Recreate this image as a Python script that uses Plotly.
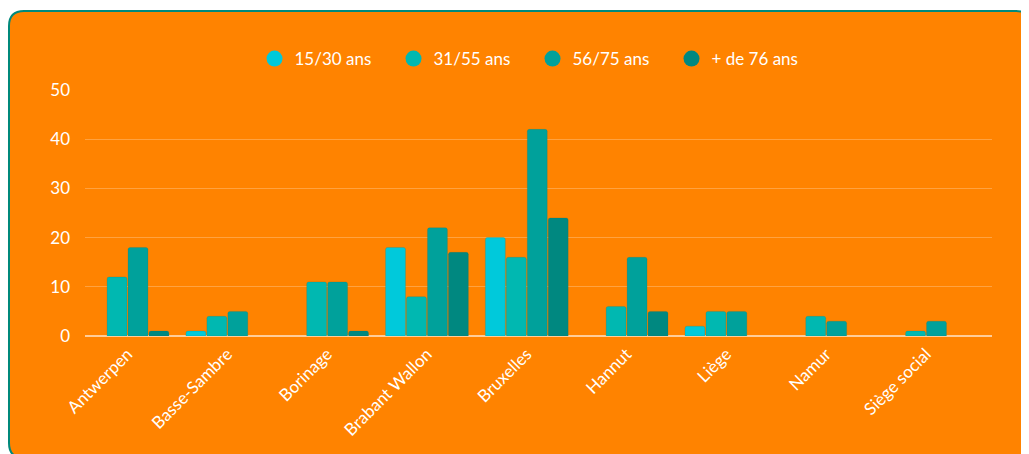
import plotly.graph_objects as go

categories = ["Antwerpen", "Basse-Sambre", "Borinage", "Brabant Wallon", "Bruxelles",
              "Hannut", "Liège", "Namur", "Siège social"]
series_names = ["15/30 ans", "31/55 ans", "56/75 ans", "+ de 76 ans"]
v_15_30 = [None, 1, None, 18, 20, None, 2, None, None]
v_31_55 = [12, 4, 11, 8, 16, 6, 5, 4, 1]
v_56_75 = [18, 5, 11, 22, 42, 16, 5, 3, 3]
v_76 = [1, None, 1, 17, 24, 5, None, None, None]
y_ticks = [0, 10, 20, 30, 40, 50]

colors = ["#00C9DB", "#00B8B1", "#00A19B", "#008880"]
series = [v_15_30, v_31_55, v_56_75, v_76]

# page body adds an 8px offset; work in figure coordinates
OFF = 8
W, H = 1029, 454
L, R, T, B = 85 - OFF, 992 - OFF, 90 - OFF, 336 - OFF
pw, ph = R - L, B - T

fig = go.Figure()
for name, vals, col in zip(series_names, series, colors):
    fig.add_trace(go.Bar(x=categories, y=vals, name=name, showlegend=False,
                         marker=dict(color=col, line=dict(color="rgba(0,110,100,0.18)", width=1),
                                     cornerradius=2),
                         hoverinfo="x+y"))
for name, col in zip(series_names, colors):
    fig.add_trace(go.Scatter(x=[None], y=[None], mode="markers", name=name,
                             marker=dict(color=col, size=17, symbol="circle")))

def px(X):
    return (X - L) / pw

def py(Y):
    return (B - Y) / ph

# rounded background card
x0, y0, x1, y1, r = 1, 3, 1023, 450, 15
rx, ry = r / pw, r / ph
path = (f"M {px(x0)+rx},{py(y0)} L {px(x1)-rx},{py(y0)} Q {px(x1)},{py(y0)} {px(x1)},{py(y0)-ry} "
        f"L {px(x1)},{py(y1)+ry} Q {px(x1)},{py(y1)} {px(x1)-rx},{py(y1)} "
        f"L {px(x0)+rx},{py(y1)} Q {px(x0)},{py(y1)} {px(x0)},{py(y1)+ry} "
        f"L {px(x0)},{py(y0)-ry} Q {px(x0)},{py(y0)} {px(x0)+rx},{py(y0)} Z")
fig.add_shape(type="path", path=path, xref="paper", yref="paper", layer="below",
              fillcolor="#FF8300", line=dict(color="#00897B", width=2))

font = "Lato, 'Open Sans', sans-serif"
fig.update_layout(
    width=W, height=H,
    margin=dict(l=L, r=W - R, t=T, b=H - B, autoexpand=False),
    paper_bgcolor="white", plot_bgcolor="rgba(0,0,0,0)",
    barmode="group", bargap=0.16, bargroupgap=0.05,
    font=dict(family=font, color="white", size=17),
    legend=dict(orientation="h", x=0.4934, xanchor="center", y=py(59 - OFF), yanchor="middle",
                font=dict(size=17, color="white"), bgcolor="rgba(0,0,0,0)",
                itemclick=False, itemdoubleclick=False, tracegroupgap=0, itemwidth=30,
                entrywidth=94, entrywidthmode="pixels"),
    xaxis=dict(type="category", range=[-0.426, 8.661], tickangle=-45, showgrid=False,
               showline=False, zeroline=False, tickfont=dict(size=17, color="white"),
               ticks="", ticklabelstandoff=4),
    yaxis=dict(range=[0, 50], tickvals=y_ticks, showgrid=True,
               gridcolor="rgba(255,255,255,0.25)", gridwidth=1,
               zeroline=True, zerolinecolor="rgba(255,255,255,0.6)", zerolinewidth=2,
               tickfont=dict(size=17, color="white"), ticks="", ticklabelstandoff=14,
               fixedrange=True),
    showlegend=True,
)

fig.write_html("out.html")
